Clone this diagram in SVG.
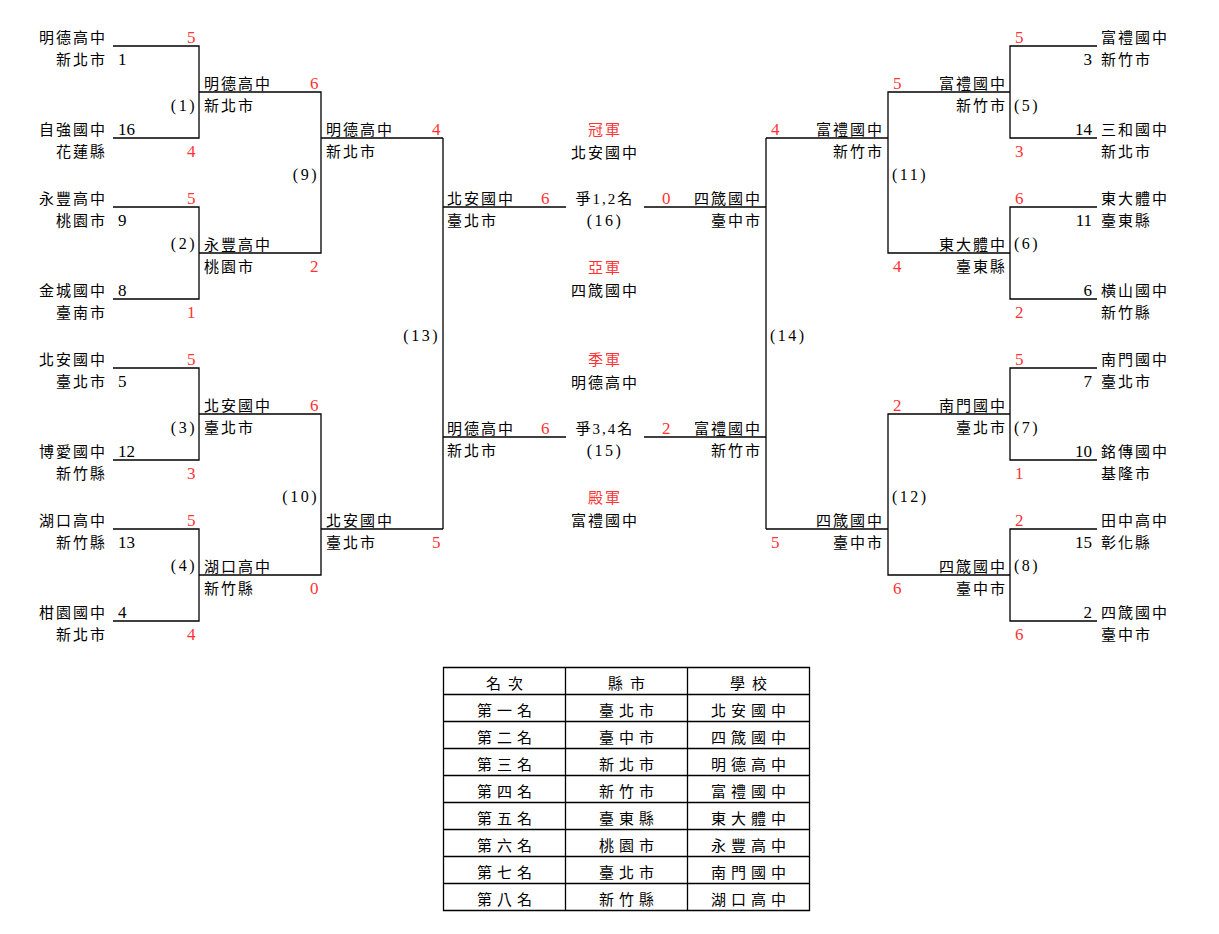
<svg xmlns="http://www.w3.org/2000/svg" width="1219" height="934" viewBox="0 0 1219 934">
<style>
text{font-family:"Liberation Serif","Noto Sans CJK TC",serif;fill:#000}
.t{font-size:15px;letter-spacing:2px}
.n{font-size:17px}
.r{fill:#ff3333}
.p{font-size:16px;letter-spacing:2.5px}
.e{text-anchor:end}
.m{text-anchor:middle}
.c path{fill:none;stroke:#000;stroke-width:1.3}
.tb{font-size:15px;letter-spacing:5px;text-anchor:middle}
.th{font-size:15px;letter-spacing:7px;text-anchor:middle}
</style>
<rect width="1219" height="934" fill="#fff"/>
<g id="connectors" class="c">
<path d="M113 46H199V138H113"/>
<path d="M199 92H321V253H199"/>
<path d="M113 207H199V299H113"/>
<path d="M321 138H443"/>
<path d="M113 368H199V460H113"/>
<path d="M199 414H321V575H199"/>
<path d="M113 529H199V621H113"/>
<path d="M321 529H443"/>
<path d="M443 138V529"/>
<path d="M443 207H566"/>
<path d="M443 437H566"/>
<path d="M1097 46H1010V138H1097"/>
<path d="M1010 92H888V253H1010"/>
<path d="M1097 207H1010V299H1097"/>
<path d="M888 138H766"/>
<path d="M1097 368H1010V460H1097"/>
<path d="M1010 414H888V575H1010"/>
<path d="M1097 529H1010V621H1097"/>
<path d="M888 529H766"/>
<path d="M766 138V529"/>
<path d="M766 207H644"/>
<path d="M766 437H644"/>
</g>
<g id="match1">
<text class="t" x="39" y="43">明德高中</text><text class="n r" x="187" y="43">5</text>
<text class="t" x="56" y="65">新北市</text><text class="n" x="118" y="65">1</text>
<text class="t" x="39" y="135">自強國中</text><text class="n" x="118" y="135">16</text>
<text class="t" x="56" y="157">花蓮縣</text><text class="n r" x="187" y="157">4</text>
<text class="p e" x="197" y="111">(1)</text>
</g>
<g id="match2">
<text class="t" x="39" y="204">永豐高中</text><text class="n r" x="187" y="204">5</text>
<text class="t" x="56" y="226">桃園市</text><text class="n" x="118" y="226">9</text>
<text class="t" x="39" y="296">金城國中</text><text class="n" x="118" y="296">8</text>
<text class="t" x="56" y="318">臺南市</text><text class="n r" x="187" y="318">1</text>
<text class="p e" x="197" y="249">(2)</text>
</g>
<g id="match3">
<text class="t" x="39" y="365">北安國中</text><text class="n r" x="187" y="365">5</text>
<text class="t" x="56" y="387">臺北市</text><text class="n" x="118" y="387">5</text>
<text class="t" x="39" y="457">博愛國中</text><text class="n" x="118" y="457">12</text>
<text class="t" x="56" y="479">新竹縣</text><text class="n r" x="187" y="479">3</text>
<text class="p e" x="197" y="433">(3)</text>
</g>
<g id="match4">
<text class="t" x="39" y="526">湖口高中</text><text class="n r" x="187" y="526">5</text>
<text class="t" x="56" y="548">新竹縣</text><text class="n" x="118" y="548">13</text>
<text class="t" x="39" y="618">柑園國中</text><text class="n" x="118" y="618">4</text>
<text class="t" x="56" y="640">新北市</text><text class="n r" x="187" y="640">4</text>
<text class="p e" x="197" y="571">(4)</text>
</g>
<g id="match9">
<text class="t" x="204" y="89">明德高中</text><text class="n r" x="310" y="89">6</text>
<text class="t" x="204" y="111">新北市</text>
<text class="t" x="204" y="250">永豐高中</text>
<text class="t" x="204" y="272">桃園市</text><text class="n r" x="310" y="272">2</text>
<text class="p e" x="319" y="180">(9)</text>
</g>
<g id="match10">
<text class="t" x="204" y="411">北安國中</text><text class="n r" x="310" y="411">6</text>
<text class="t" x="204" y="433">臺北市</text>
<text class="t" x="204" y="572">湖口高中</text>
<text class="t" x="204" y="594">新竹縣</text><text class="n r" x="310" y="594">0</text>
<text class="p e" x="319" y="502">(10)</text>
</g>
<g id="match13">
<text class="t" x="326" y="135">明德高中</text><text class="n r" x="432" y="135">4</text>
<text class="t" x="326" y="157">新北市</text>
<text class="t" x="326" y="526">北安國中</text>
<text class="t" x="326" y="548">臺北市</text><text class="n r" x="432" y="548">5</text>
<text class="p e" x="440" y="341">(13)</text>
</g>
<g id="match16">
<text class="t" x="447" y="204">北安國中</text><text class="n r" x="541" y="204">6</text>
<text class="t" x="447" y="226">臺北市</text>
<text class="t m" x="605" y="204">爭1,2名</text>
<text class="p m" x="605" y="226">(16)</text>
<text class="n r" x="662" y="204">0</text>
<text class="t e" x="762" y="204">四箴國中</text>
<text class="t e" x="762" y="226">臺中市</text>
</g>
<g id="match15">
<text class="t" x="447" y="434">明德高中</text><text class="n r" x="541" y="434">6</text>
<text class="t" x="447" y="456">新北市</text>
<text class="t m" x="605" y="434">爭3,4名</text>
<text class="p m" x="605" y="456">(15)</text>
<text class="n r" x="662" y="434">2</text>
<text class="t e" x="762" y="434">富禮國中</text>
<text class="t e" x="762" y="456">新竹市</text>
</g>
<g id="results">
<text class="t m r" x="605" y="135">冠軍</text>
<text class="t m" x="605" y="158">北安國中</text>
<text class="t m r" x="605" y="273">亞軍</text>
<text class="t m" x="605" y="296">四箴國中</text>
<text class="t m r" x="605" y="365">季軍</text>
<text class="t m" x="605" y="388">明德高中</text>
<text class="t m r" x="605" y="503">殿軍</text>
<text class="t m" x="605" y="526">富禮國中</text>
</g>
<g id="match5">
<text class="n r" x="1015" y="43">5</text><text class="t" x="1101" y="43">富禮國中</text>
<text class="n e" x="1092" y="65">3</text><text class="t" x="1101" y="65">新竹市</text>
<text class="n e" x="1092" y="135">14</text><text class="t" x="1101" y="135">三和國中</text>
<text class="n r" x="1015" y="157">3</text><text class="t" x="1101" y="157">新北市</text>
<text class="p" x="1014" y="111">(5)</text>
</g>
<g id="match6">
<text class="n r" x="1015" y="204">6</text><text class="t" x="1101" y="204">東大體中</text>
<text class="n e" x="1092" y="226">11</text><text class="t" x="1101" y="226">臺東縣</text>
<text class="n e" x="1092" y="296">6</text><text class="t" x="1101" y="296">橫山國中</text>
<text class="n r" x="1015" y="318">2</text><text class="t" x="1101" y="318">新竹縣</text>
<text class="p" x="1014" y="249">(6)</text>
</g>
<g id="match7">
<text class="n r" x="1015" y="365">5</text><text class="t" x="1101" y="365">南門國中</text>
<text class="n e" x="1092" y="387">7</text><text class="t" x="1101" y="387">臺北市</text>
<text class="n e" x="1092" y="457">10</text><text class="t" x="1101" y="457">銘傳國中</text>
<text class="n r" x="1015" y="479">1</text><text class="t" x="1101" y="479">基隆市</text>
<text class="p" x="1014" y="433">(7)</text>
</g>
<g id="match8">
<text class="n r" x="1015" y="526">2</text><text class="t" x="1101" y="526">田中高中</text>
<text class="n e" x="1092" y="548">15</text><text class="t" x="1101" y="548">彰化縣</text>
<text class="n e" x="1092" y="618">2</text><text class="t" x="1101" y="618">四箴國中</text>
<text class="n r" x="1015" y="640">6</text><text class="t" x="1101" y="640">臺中市</text>
<text class="p" x="1014" y="571">(8)</text>
</g>
<g id="match11">
<text class="n r" x="893" y="89">5</text><text class="t e" x="1007" y="89">富禮國中</text>
<text class="t e" x="1007" y="111">新竹市</text>
<text class="t e" x="1007" y="250">東大體中</text>
<text class="n r" x="893" y="272">4</text><text class="t e" x="1007" y="272">臺東縣</text>
<text class="p" x="892" y="180">(11)</text>
</g>
<g id="match12">
<text class="n r" x="893" y="411">2</text><text class="t e" x="1007" y="411">南門國中</text>
<text class="t e" x="1007" y="433">臺北市</text>
<text class="t e" x="1007" y="572">四箴國中</text>
<text class="n r" x="893" y="594">6</text><text class="t e" x="1007" y="594">臺中市</text>
<text class="p" x="892" y="502">(12)</text>
</g>
<g id="match14">
<text class="n r" x="771" y="135">4</text><text class="t e" x="884" y="135">富禮國中</text>
<text class="t e" x="884" y="157">新竹市</text>
<text class="t e" x="884" y="526">四箴國中</text>
<text class="n r" x="771" y="548">5</text><text class="t e" x="884" y="548">臺中市</text>
<text class="p" x="770" y="341">(14)</text>
</g>
<g id="ranking-table">
<g class="c">
<path d="M443.5 667.5H809.5V910.5H443.5Z"/>
<path d="M565.5 667.5V910.5M687.5 667.5V910.5"/>
<path d="M443.5 694.5H809.5M443.5 721.5H809.5M443.5 748.5H809.5M443.5 775.5H809.5M443.5 802.5H809.5M443.5 829.5H809.5M443.5 856.5H809.5M443.5 883.5H809.5"/>
</g>
<text class="th" x="508" y="689">名次</text><text class="th" x="630" y="689">縣市</text><text class="th" x="752" y="689">學校</text>
<text class="tb" x="507" y="716">第一名</text><text class="tb" x="629" y="716">臺北市</text><text class="tb" x="751" y="716">北安國中</text>
<text class="tb" x="507" y="743">第二名</text><text class="tb" x="629" y="743">臺中市</text><text class="tb" x="751" y="743">四箴國中</text>
<text class="tb" x="507" y="770">第三名</text><text class="tb" x="629" y="770">新北市</text><text class="tb" x="751" y="770">明德高中</text>
<text class="tb" x="507" y="797">第四名</text><text class="tb" x="629" y="797">新竹市</text><text class="tb" x="751" y="797">富禮國中</text>
<text class="tb" x="507" y="824">第五名</text><text class="tb" x="629" y="824">臺東縣</text><text class="tb" x="751" y="824">東大體中</text>
<text class="tb" x="507" y="851">第六名</text><text class="tb" x="629" y="851">桃園市</text><text class="tb" x="751" y="851">永豐高中</text>
<text class="tb" x="507" y="878">第七名</text><text class="tb" x="629" y="878">臺北市</text><text class="tb" x="751" y="878">南門國中</text>
<text class="tb" x="507" y="905">第八名</text><text class="tb" x="629" y="905">新竹縣</text><text class="tb" x="751" y="905">湖口高中</text>
</g>
</svg>
